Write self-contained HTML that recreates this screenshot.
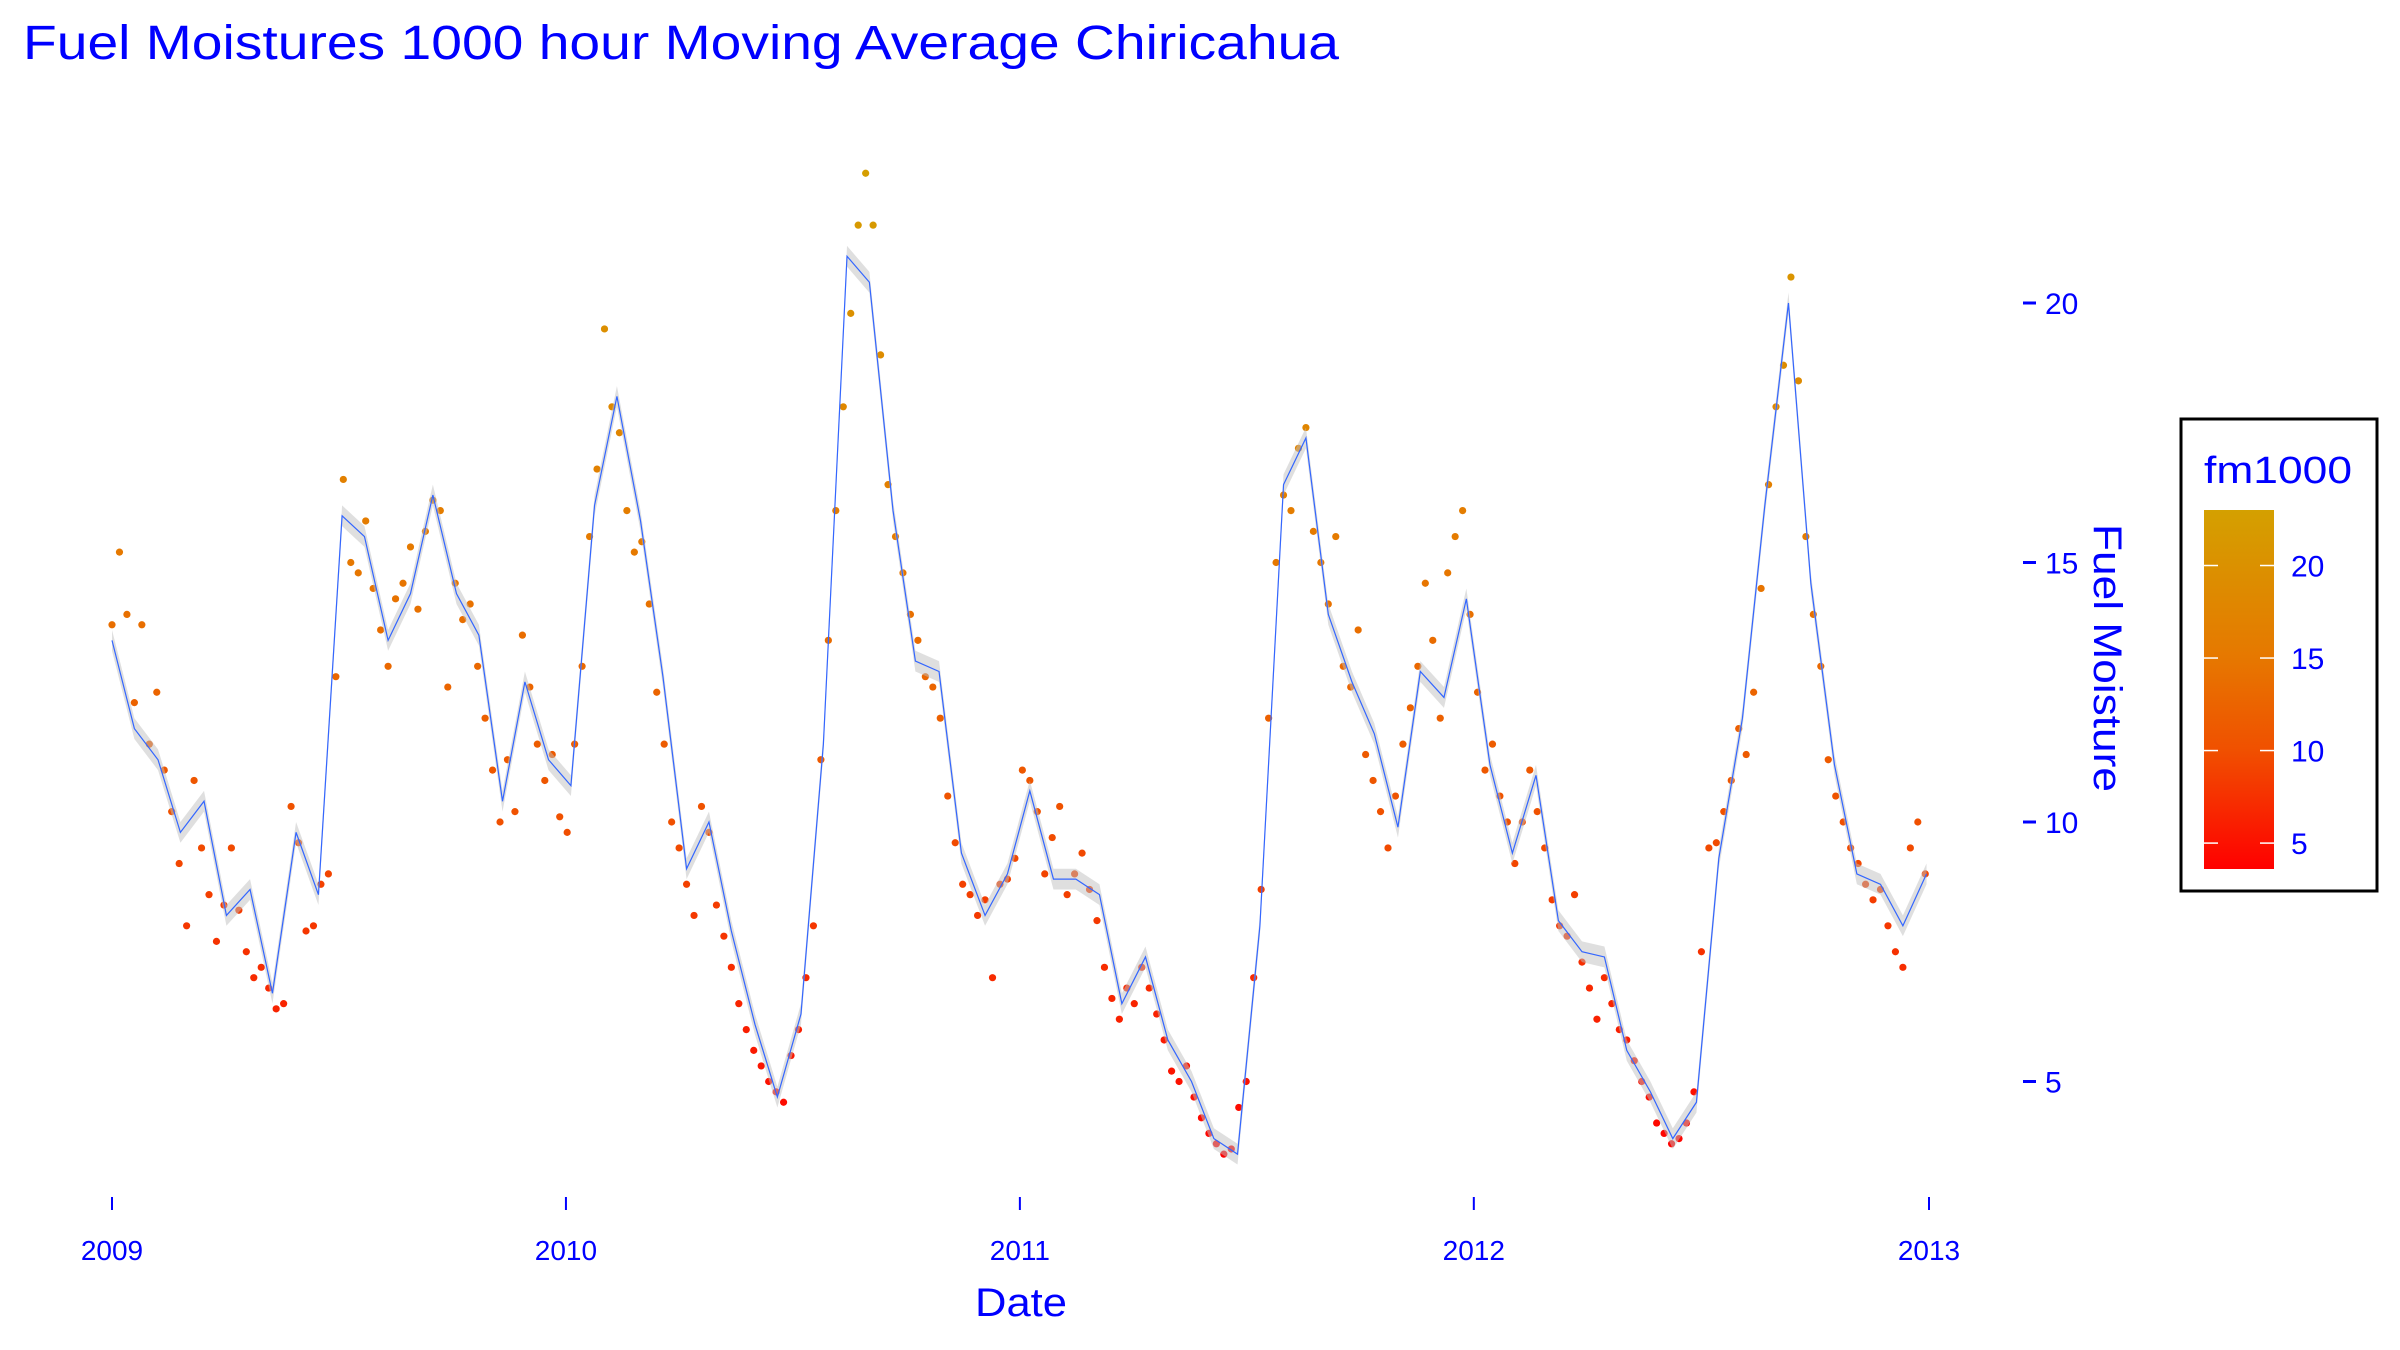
<!DOCTYPE html>
<html><head><meta charset="utf-8"><style>
html,body{margin:0;padding:0;background:#fff;}
svg{display:block;font-family:"Liberation Sans",sans-serif;}
</style></head><body>
<svg id="chart" width="2400" height="1350" viewBox="0 0 2400 1350" xmlns="http://www.w3.org/2000/svg">
<defs>
<linearGradient id="cbar" x1="0" y1="0" x2="0" y2="1">
<stop offset="0" stop-color="#d4a000"/>
<stop offset="0.41" stop-color="#e67800"/>
<stop offset="0.67" stop-color="#f05000"/>
<stop offset="1" stop-color="#ff0000"/>
</linearGradient>
</defs>
<text x="23" y="59" font-size="48" fill="#0000ff" textLength="1316" lengthAdjust="spacingAndGlyphs">Fuel Moistures 1000 hour Moving Average Chiricahua</text>
<g id="plot"></g>
<g id="xaxis"></g>
<g id="yaxis"></g>
<text x="1021" y="1316" font-size="40" fill="#0000ff" text-anchor="middle" textLength="92" lengthAdjust="spacingAndGlyphs">Date</text>
<text transform="translate(2094,658) rotate(90)" font-size="40" fill="#0000ff" text-anchor="middle" textLength="268" lengthAdjust="spacingAndGlyphs">Fuel Moisture</text>
<g>
<rect x="2181" y="419" width="196" height="472" fill="#fff" stroke="#000" stroke-width="3"/>
<text x="2204" y="483" font-size="38" fill="#0000ff" textLength="148" lengthAdjust="spacingAndGlyphs">fm1000</text>
<rect x="2204" y="510" width="70" height="359" fill="url(#cbar)"/>
<g id="legticks"></g>
</g>
</svg>
<script>
const maDays=[0,18,37,55,74,92,111,129,148,166,185,203,222,240,258,277,295,314,332,351,369,388,406,425,443,462,480,498,517,535,554,572,591,609,628,646,665,683,702,720,738,757,775,794,812,831,849,868,886,905,923,942,960,978,997,1015,1034,1052,1071,1089,1108,1126,1145,1163,1182,1200,1218,1237,1255,1274,1292,1311,1329,1348,1366,1385,1403,1422,1440,1459];
const maValues=[13.5,11.8,11.2,9.8,10.4,8.2,8.7,6.7,9.8,8.6,15.9,15.5,13.5,14.4,16.3,14.4,13.6,10.4,12.7,11.2,10.7,16.1,18.2,15.8,12.8,9.1,10.0,7.9,6.1,4.7,6.3,11.5,20.9,20.4,16.0,13.1,12.9,9.4,8.2,9.0,10.6,8.9,8.9,8.6,6.5,7.4,5.8,5.0,3.9,3.6,8.0,16.5,17.4,14.0,12.7,11.7,9.9,12.9,12.4,14.3,11.1,9.4,10.9,8.1,7.5,7.4,5.6,4.8,3.9,4.6,9.3,12.0,16.1,20.0,14.6,11.1,9.0,8.8,8.0,9.0];
const dotDays=[0,6,12,18,24,30,36,42,48,54,60,66,72,78,84,90,96,102,108,114,120,126,132,138,144,150,156,162,168,174,180,186,192,198,204,210,216,222,228,234,240,246,252,258,264,270,276,282,288,294,300,306,312,318,324,330,336,342,348,354,360,
366,372,378,384,390,396,402,408,414,420,426,432,438,444,450,456,462,468,474,480,486,492,498,504,510,516,522,528,534,540,546,552,558,564,570,576,582,588,594,600,606,612,618,624,630,636,642,648,654,660,666,672,678,684,690,696,702,708,714,720,726,
732,738,744,750,756,762,768,774,780,786,792,798,804,810,816,822,828,834,840,846,852,858,864,870,876,882,888,894,900,906,912,918,924,930,936,942,948,954,960,966,972,978,984,990,996,1002,1008,1014,1020,1026,1032,1038,1044,1050,1056,1062,1068,1074,1080,1086,
1092,1098,1104,1110,1116,1122,1128,1134,1140,1146,1152,1158,1164,1170,1176,1182,1188,1194,1200,1206,1212,1218,1224,1230,1236,1242,1248,1254,1260,1266,1272,1278,1284,1290,1296,1302,1308,1314,1320,1326,1332,1338,1344,1350,1356,1362,1368,1374,1380,1386,1392,1398,1404,1410,1416,1422,1428,1434,1440,1446,1452,1458];
const dotValues=[13.8,15.2,14.0,12.3,13.8,11.5,12.5,11.0,10.2,9.2,8.0,10.8,9.5,8.6,7.7,8.4,9.5,8.3,7.5,7.0,7.2,6.8,6.4,6.5,10.3,9.6,7.9,8.0,8.8,9.0,12.8,16.6,15.0,14.8,15.8,14.5,13.7,13.0,14.3,14.6,15.3,14.1,15.6,16.2,16.0,12.6,14.6,13.9,14.2,13.0,12.0,11.0,10.0,11.2,10.2,13.6,12.6,11.5,10.8,11.3,10.1,
9.8,11.5,13.0,15.5,16.8,19.5,18.0,17.5,16.0,15.2,15.4,14.2,12.5,11.5,10.0,9.5,8.8,8.2,10.3,9.8,8.4,7.8,7.2,6.5,6.0,5.6,5.3,5.0,4.8,4.6,5.5,6.0,7.0,8.0,11.2,13.5,16.0,18.0,19.8,21.5,22.5,21.5,19.0,16.5,15.5,14.8,14.0,13.5,12.8,12.6,12.0,10.5,9.6,8.8,8.6,8.2,8.5,7.0,8.8,8.9,9.3,
11.0,10.8,10.2,9.0,9.7,10.3,8.6,9.0,9.4,8.7,8.1,7.2,6.6,6.2,6.8,6.5,7.2,6.8,6.3,5.8,5.2,5.0,5.3,4.7,4.3,4.0,3.8,3.6,3.7,4.5,5.0,7.0,8.7,12.0,15.0,16.3,16.0,17.2,17.6,15.6,15.0,14.2,15.5,13.0,12.6,13.7,11.3,10.8,10.2,9.5,10.5,11.5,12.2,13.0,14.6,13.5,12.0,14.8,15.5,16.0,
14.0,12.5,11.0,11.5,10.5,10.0,9.2,10.0,11.0,10.2,9.5,8.5,8.0,7.8,8.6,7.3,6.8,6.2,7.0,6.5,6.0,5.8,5.4,5.0,4.7,4.2,4.0,3.8,3.9,4.2,4.8,7.5,9.5,9.6,10.2,10.8,11.8,11.3,12.5,14.5,16.5,18.0,18.8,20.5,18.5,15.5,14.0,13.0,11.2,10.5,10.0,9.5,9.2,8.8,8.5,8.7,8.0,7.5,7.2,9.5,10.0,9.0];
const xTickLabels=["2009","2010","2011","2012","2013"];
const xTickDays=[0,365,730,1095,1461];
const yTickValues=[5,10,15,20];
const legendTickValues=[5,10,15,20];

const NS="http://www.w3.org/2000/svg";
function xScale(d){return 112+d*(1929-112)/1461;}
function yScale(v){return 303+(20-v)*51.9;}
function legScale(v){return 510+(23-v)*(359/(23-3.6));}
const stops=[[3.6,[255,0,0]],[10,[240,80,0]],[15,[230,120,0]],[23,[212,160,0]]];
function color(v){
  if(v<=stops[0][0])return "rgb(255,0,0)";
  for(let i=1;i<stops.length;i++){
    if(v<=stops[i][0]){const a=stops[i-1],b=stops[i];const t=(v-a[0])/(b[0]-a[0]);
      const c=a[1].map((x,j)=>Math.round(x+(b[1][j]-x)*t));return "rgb("+c.join(",")+")";}
  }
  return "rgb(212,160,0)";
}
function mk(tag,attrs){const e=document.createElementNS(NS,tag);for(const k in attrs)e.setAttribute(k,attrs[k]);return e;}
const plot=document.getElementById("plot");
dotDays.forEach((d,i)=>{
  const c=mk("circle",{cx:xScale(d),cy:yScale(dotValues[i]),r:3.6,fill:color(dotValues[i])});
  
  
  plot.appendChild(c);
});
let up=[],dn=[];
maDays.forEach((d,i)=>{up.push(xScale(d)+","+yScale(maValues[i]+0.2));dn.unshift(xScale(d)+","+yScale(maValues[i]-0.2));});
const rib=mk("polygon",{points:up.concat(dn).join(" "),fill:"#bfbfbf","fill-opacity":"0.5"});


plot.appendChild(rib);
const line=mk("polyline",{points:maDays.map((d,i)=>xScale(d)+","+yScale(maValues[i])).join(" "),fill:"none",stroke:"#3366ff","stroke-width":1.2});


plot.appendChild(line);
const xa=document.getElementById("xaxis");
xTickDays.forEach((d,i)=>{
  const t=mk("line",{x1:xScale(d),x2:xScale(d),y1:1197,y2:1210,stroke:"#0000ff","stroke-width":2});
  
  
  xa.appendChild(t);
  const l=mk("text",{x:xScale(d),y:1260,"font-size":28,fill:"#0000ff","text-anchor":"middle"});
  
  
  l.textContent=xTickLabels[i];xa.appendChild(l);
});
const ya=document.getElementById("yaxis");
yTickValues.forEach(v=>{
  const t=mk("line",{x1:2023,x2:2036,y1:yScale(v),y2:yScale(v),stroke:"#0000ff","stroke-width":3});
  
  
  ya.appendChild(t);
  const l=mk("text",{x:2045,y:yScale(v)+11,"font-size":30,fill:"#0000ff"});
  
  
  l.textContent=v;ya.appendChild(l);
});
const lg=document.getElementById("legticks");
legendTickValues.forEach(v=>{
  const y=legScale(v);
  [[2204,2218],[2260,2274]].forEach(p=>{
    const t=mk("line",{x1:p[0],x2:p[1],y1:y,y2:y,stroke:"#fff","stroke-width":1.5});
    
    
    lg.appendChild(t);
  });
  const l=mk("text",{x:2291,y:y+11,"font-size":30,fill:"#0000ff"});
  
  
  l.textContent=v;lg.appendChild(l);
});
</script>
</body></html>
